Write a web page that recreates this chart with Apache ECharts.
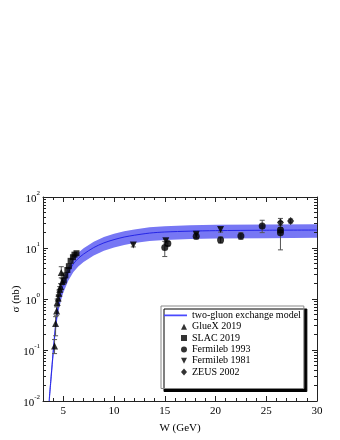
<!DOCTYPE html>
<html lang="en">
<head>
    <meta charset="UTF-8">
    <title>sigma vs W</title>
    <script src="https://cdn.jsdelivr.net/npm/echarts@6/dist/echarts.min.js"></script>
    <style>
        html, body { margin: 0; padding: 0; background: #fff; }
        .demo { width: 340px; height: 440px; }
    </style>
</head>
<body>
    <div class="demo"></div>
    <script>
        // two-gluon exchange model (central curve)
        var modelW = [3.6, 3.8, 4.0, 4.2, 4.4, 4.6, 4.8, 5.0, 5.5, 6.0, 6.5, 7.0, 8.0, 9.0, 10, 11, 12, 13.5, 15, 17.5, 20, 25, 30]
        var modelSigma = [0.01, 0.03, 0.09, 0.25, 0.55, 0.95, 1.4, 1.9, 3.3, 4.9, 6.3, 7.6, 10.2, 12.6, 14.6, 16.4, 17.8, 19.6, 20.6, 21.4, 21.9, 22.3, 22.5]
        // uncertainty band
        var bandUp = [0.013, 0.04, 0.12, 0.33, 0.72, 1.25, 1.85, 2.5, 4.3, 6.4, 8.2, 9.9, 13.3, 16.4, 19, 21.3, 23.1, 25.5, 26.8, 27.8, 28.5, 29, 29.2]
        var bandLow = [0.007, 0.021, 0.063, 0.175, 0.39, 0.67, 0.98, 1.33, 2.3, 3.4, 4.4, 5.3, 7.1, 8.8, 10.2, 11.5, 12.5, 13.7, 14.4, 15, 15.3, 15.6, 15.8]

        var gluexW = [4.14, 4.24, 4.34, 4.4, 4.5, 4.57, 4.65, 4.73, 4.8, 4.9]
        var gluexSigma = [0.12, 0.33, 0.58, 0.85, 1.05, 1.3, 1.55, 1.75, 3.3, 2.2]
        var gluexLo = [0.085, 0.19, 0.47, 0.72, 0.9, 1.12, 1.35, 1.5, 2.6, 1.9]
        var gluexHi = [0.16, 0.45, 0.7, 1.0, 1.2, 1.5, 1.75, 2.0, 4.3, 2.5]

        var slacW = [5.05, 5.2, 5.4, 5.55, 5.72, 5.95, 6.1, 6.3]
        var slacSigma = [2.3, 2.9, 3.7, 4.4, 5.6, 6.6, 7.4, 7.9]

        var fnal93W = [15.0, 15.3, 18.1, 20.5, 22.5, 24.6, 26.4, 26.4]
        var fnal93Sigma = [10.2, 12.2, 17, 14.3, 17.2, 27, 22.5, 20]
        var fnal93Lo = [6.8, 11, 15, 12.5, 14.8, 20, 20, 9.2]
        var fnal93Hi = [13.5, 13.5, 19.5, 16.5, 20, 35, 25, 33]

        var fnal81W = [11.9, 15.1, 18.1, 20.5]
        var fnal81Sigma = [11.5, 13.8, 18.5, 23]
        var fnal81Lo = [10.5, 12.5, 16, 20.5]
        var fnal81Hi = [12.5, 15, 20, 25]

        var zeusW = [26.4, 27.4]
        var zeusSigma = [31.6, 34]
        var zeusLo = [28, 31]
        var zeusHi = [38, 37]

        var xMajor = [5, 10, 15, 20, 25, 30]
        var xMinor = [4, 6, 7, 8, 9, 11, 12, 13, 14, 16, 17, 18, 19, 21, 22, 23, 24, 26, 27, 28, 29]
        var yMinor = [0.02, 0.03, 0.04, 0.05, 0.06, 0.07, 0.08, 0.09,
            0.2, 0.3, 0.4, 0.5, 0.6, 0.7, 0.8, 0.9,
            2, 3, 4, 5, 6, 7, 8, 9,
            20, 30, 40, 50, 60, 70, 80, 90]

        var font = 'Liberation Serif'

        function pairs(xs, ys) {
            return xs.map(function (x, i) { return [x, ys[i]] })
        }
        function errs(xs, lo, hi) {
            return xs.map(function (x, i) { return [x, lo[i], hi[i]] })
        }

        function errorBar(params, api) {
            var a = api.coord([api.value(0), api.value(2)])
            var b = api.coord([api.value(0), api.value(1)])
            var st = { stroke: '#555', lineWidth: 1 }
            return {
                type: 'group',
                children: [
                    { type: 'line', shape: { x1: a[0], y1: a[1], x2: b[0], y2: b[1] }, style: st },
                    { type: 'line', shape: { x1: a[0] - 2.5, y1: a[1], x2: a[0] + 2.5, y2: a[1] }, style: st },
                    { type: 'line', shape: { x1: b[0] - 2.5, y1: b[1], x2: b[0] + 2.5, y2: b[1] }, style: st }
                ]
            }
        }

        function bandItem(params, api) {
            var pts = []
            for (var i = 0; i < modelW.length; i++) pts.push(api.coord([modelW[i], bandUp[i]]))
            for (var j = modelW.length - 1; j >= 0; j--) pts.push(api.coord([modelW[j], bandLow[j]]))
            return { type: 'polygon', shape: { points: pts }, style: { fill: '#7777f4' } }
        }

        function errSeries(data) {
            return { type: 'custom', renderItem: errorBar, data: data, z: 3, silent: true }
        }

        // legend icons: symbol sits near the right end of a 23x7 box
        var iconLine = 'path://M0,0L0,7Z M0,2.6L23,2.6L23,4.2L0,4.2Z'
        var iconTri = 'path://M0,0L0,7Z M17,6.5L20,0.5L23,6.5Z'
        var iconSq = 'path://M0,0L0,7Z M17,0.5L23,0.5L23,6.5L17,6.5Z'
        var iconCirc = 'path://M0,0L0,7Z M23,3.5A3,3 0 1,1 17,3.5A3,3 0 1,1 23,3.5Z'
        var iconDown = 'path://M0,0L0,7Z M17,0.5L23,0.5L20,6.5Z'
        var iconDia = 'path://M0,0L0,7Z M20,0L23,3.5L20,7L17,3.5Z'

        var tickMajor = { show: true, inside: true, length: 5, lineStyle: { color: '#222' } }
        var tickMinor = { show: true, inside: true, length: 3, lineStyle: { color: '#222' } }

        function xAx(pos, ticks, major) {
            return {
                type: 'value', min: 3, max: 30, position: pos, z: 5,
                axisLine: { show: major, lineStyle: { color: '#222', width: 1 } },
                axisTick: Object.assign({ customValues: ticks }, major ? tickMajor : tickMinor),
                axisLabel: { show: false },
                splitLine: { show: false }
            }
        }
        function yAx(pos, ticks, major) {
            var ax = {
                type: 'log', logBase: 10, min: 0.01, max: 100, position: pos, z: 5,
                axisLine: { show: major, lineStyle: { color: '#222', width: 1 } },
                axisTick: major ? tickMajor : Object.assign({ customValues: ticks }, tickMinor),
                axisLabel: { show: false },
                splitLine: { show: false }
            }
            return ax
        }

        var xBottom = xAx('bottom', xMajor, true)
        xBottom.name = 'W (GeV)'
        xBottom.nameLocation = 'middle'
        xBottom.nameGap = 22
        xBottom.nameMoveOverlap = false
        xBottom.nameTextStyle = { fontFamily: font, fontSize: 11, color: '#000' }
        xBottom.axisLabel = { show: true, customValues: xMajor, margin: 5, fontFamily: font, fontSize: 11, color: '#000' }

        var yLeft = yAx('left', null, true)
        yLeft.name = 'σ (nb)'
        yLeft.nameLocation = 'middle'
        yLeft.nameGap = 21
        yLeft.nameMoveOverlap = false
        yLeft.nameTextStyle = { fontFamily: font, fontSize: 11, color: '#000' }
        yLeft.axisLabel = {
            show: true, margin: 3, fontFamily: font, color: '#000',
            formatter: function (v) {
                return '{b|10}{e|' + Math.round(Math.log10(v)) + '}'
            },
            rich: {
                b: { fontFamily: font, fontSize: 11, lineHeight: 15, verticalAlign: 'bottom', color: '#000' },
                e: { fontFamily: font, fontSize: 7, lineHeight: 15, verticalAlign: 'top', color: '#000' }
            }
        }

        var div = echarts.init(document.querySelector('.demo'))
        var option = {
            animation: false,
            grid: { left: 43, right: 23, top: 197, bottom: 39, containLabel: false, outerBoundsMode: 'none' },
            xAxis: [xBottom, xAx('bottom', xMinor, false), xAx('top', xMajor, true), xAx('top', xMinor, false)],
            yAxis: [yLeft, yAx('left', yMinor, false), yAx('right', null, true), yAx('right', yMinor, false)],
            legend: {
                orient: 'vertical',
                left: 161, top: 306,
                padding: [4, 3, 11, 3],
                itemWidth: 23, itemHeight: 7, itemGap: 0.3,
                backgroundColor: '#fff',
                borderColor: '#888', borderWidth: 1,
                shadowColor: '#000', shadowBlur: 0, shadowOffsetX: 3, shadowOffsetY: 3,
                textStyle: { fontFamily: font, fontSize: 10, lineHeight: 11, color: '#000', padding: [0, 0, 0, 0] },
                data: [
                    { name: 'two-gluon exchange model', icon: iconLine, itemStyle: { color: '#4a4aff', borderColor: '#4a4aff', borderWidth: 0 } },
                    { name: 'GlueX 2019', icon: iconTri },
                    { name: 'SLAC 2019', icon: iconSq },
                    { name: 'Fermileb 1993', icon: iconCirc },
                    { name: 'Fermileb 1981', icon: iconDown },
                    { name: 'ZEUS 2002', icon: iconDia }
                ]
            },
            series: [
                { type: 'custom', name: 'band', renderItem: bandItem, data: [[modelW[0], modelSigma[0]]], clip: true, z: 1, silent: true },
                {
                    name: 'two-gluon exchange model', type: 'line', data: pairs(modelW, modelSigma),
                    symbol: 'none', smooth: 0.3, clip: true, z: 2, color: '#4a4aff',
                    lineStyle: { color: '#2626e6', width: 1 }, itemStyle: { color: '#4a4aff' }
                },
                errSeries(errs(gluexW, gluexLo, gluexHi)),
                errSeries(errs(fnal93W, fnal93Lo, fnal93Hi)),
                errSeries(errs(fnal81W, fnal81Lo, fnal81Hi)),
                errSeries(errs(zeusW, zeusLo, zeusHi)),
                { name: 'GlueX 2019', type: 'scatter', data: pairs(gluexW, gluexSigma), symbol: 'triangle', symbolSize: 7, itemStyle: { color: '#000' }, z: 4 },
                { name: 'SLAC 2019', type: 'scatter', data: pairs(slacW, slacSigma), symbol: 'rect', symbolSize: 6, itemStyle: { color: '#000' }, z: 4 },
                { name: 'Fermileb 1993', type: 'scatter', data: pairs(fnal93W, fnal93Sigma), symbol: 'circle', symbolSize: 7, itemStyle: { color: '#000' }, z: 4 },
                { name: 'Fermileb 1981', type: 'scatter', data: pairs(fnal81W, fnal81Sigma), symbol: 'triangle', symbolRotate: 180, symbolSize: 7, itemStyle: { color: '#000' }, z: 4 },
                { name: 'ZEUS 2002', type: 'scatter', data: pairs(zeusW, zeusSigma), symbol: 'diamond', symbolSize: [7, 8], itemStyle: { color: '#000' }, z: 4 }
            ]
        }
        div.setOption(option)
    </script>
</body>
</html>
